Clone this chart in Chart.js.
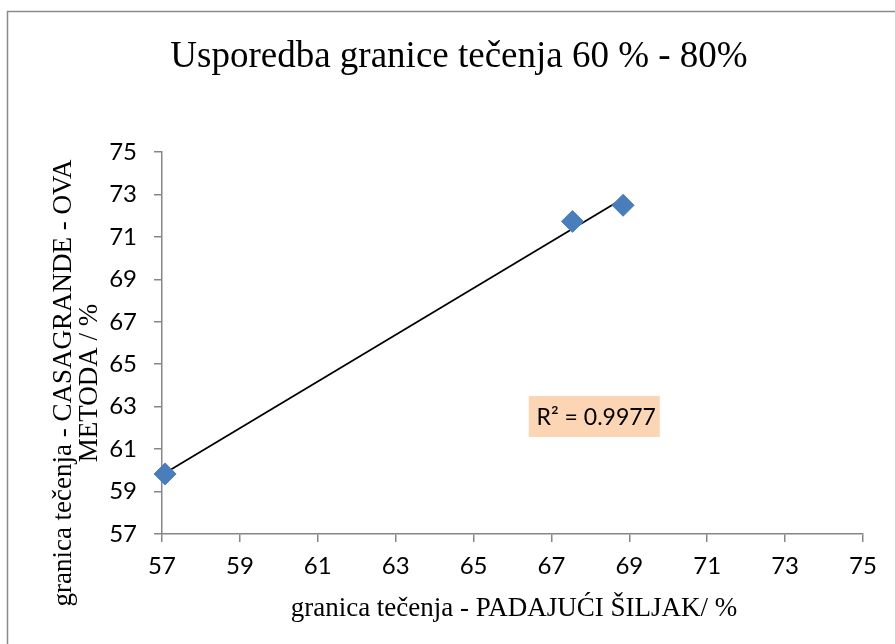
<!DOCTYPE html>
<html>
<head>
<meta charset="utf-8">
<script src="https://cdn.jsdelivr.net/npm/chart.js@4.4.1/dist/chart.umd.min.js"></script>
<style>
  html, body { margin: 0; padding: 0; background: #fff; overflow: hidden; }
  #wrap { position: absolute; left: 0; top: 0; width: 895px; height: 644px; }
</style>
</head>
<body>
<div id="wrap"><canvas id="myChart" width="895" height="644"></canvas></div>
<script>
// podaci ocitani sa slike
const padajuciSiljak = [57.08, 67.54, 68.84];   // x - granica tecenja, padajuci siljak
const casagrande = [59.83, 71.73, 72.49];       // y - granica tecenja, Casagrande
const xTicks = [57, 59, 61, 63, 65, 67, 69, 71, 73, 75];
const yTicks = [57, 59, 61, 63, 65, 67, 69, 71, 73, 75];
const r2Text = 'R² = 0.9977';

const naslov = 'Usporedba granice tečenja 60 % - 80%';
const xNaslov = 'granica tečenja - PADAJUĆI ŠILJAK/ %';
const yNaslov = ['granica tečenja - CASAGRANDE - OVA', 'METODA / %'];

// linearni trend (najmanji kvadrati) iz podataka
const n = padajuciSiljak.length;
const mx = padajuciSiljak.reduce((a, b) => a + b, 0) / n;
const my = casagrande.reduce((a, b) => a + b, 0) / n;
let sxy = 0, sxx = 0;
for (let i = 0; i < n; i++) {
  sxy += (padajuciSiljak[i] - mx) * (casagrande[i] - my);
  sxx += (padajuciSiljak[i] - mx) ** 2;
}
const nagib = sxy / sxx;
const odsjecak = my - nagib * mx;
const xMin = Math.min(...padajuciSiljak), xMax = Math.max(...padajuciSiljak);
const trend = [
  { x: xMin, y: nagib * xMin + odsjecak },
  { x: xMax, y: nagib * xMax + odsjecak }
];

const tocke = padajuciSiljak.map((x, i) => ({ x: x, y: casagrande[i] }));

const osivo = '#868686';
const tickFont = { family: 'Lato', size: 24 };

// okvir, naslovi i oznaka R²
const tekstovi = {
  id: 'tekstovi',
  beforeDraw(chart) {
    const c = chart.ctx;
    c.save();
    c.fillStyle = '#fff';
    c.fillRect(0, 0, chart.width, chart.height);
    c.strokeStyle = '#8a8a8a';
    c.lineWidth = 1.5;
    c.strokeRect(7.5, 11.5, 900, 640);
    c.restore();
  },
  afterDraw(chart) {
    const c = chart.ctx;
    const xs = chart.scales.x, ys = chart.scales.y;
    c.save();
    c.fillStyle = '#000';
    c.textAlign = 'center';
    c.textBaseline = 'alphabetic';
    c.font = '37px "Liberation Serif"';
    c.fillText(naslov, 459, 67);

    c.font = '27px "Liberation Serif"';
    c.fillText(xNaslov, 514, 616);

    c.save();
    c.translate(71, 383);
    c.rotate(-Math.PI / 2);
    c.fillText(yNaslov[0], 0, 0);
    c.restore();
    c.save();
    c.translate(97, 383);
    c.rotate(-Math.PI / 2);
    c.fillText(yNaslov[1], 0, 0);
    c.restore();

    // R² oznaka
    const cx = xs.getPixelForValue(68.1);
    const cy = ys.getPixelForValue(62.54);
    c.fillStyle = '#fcd5b5';
    c.fillRect(cx - 65.5, cy - 20.5, 131, 41);
    c.fillStyle = '#000';
    c.font = '23px Lato';
    c.textBaseline = 'middle';
    c.fillText(r2Text, cx + 2, cy + 1);
    c.restore();
  }
};

const ctx = document.getElementById('myChart');

new Chart(ctx, {
  type: 'scatter',
  data: {
    datasets: [
      {
        label: 'trend',
        data: trend,
        showLine: true,
        borderColor: '#000',
        borderWidth: 1.75,
        pointRadius: 0,
        fill: false,
        clip: false,
        order: 2
      },
      {
        label: 'granica tečenja',
        data: tocke,
        pointStyle: 'rectRot',
        pointRadius: 11,
        backgroundColor: '#4a7ebb',
        borderColor: '#4a7ebb',
        borderWidth: 1,
        clip: false,
        order: 1
      }
    ]
  },
  options: {
    responsive: false,
    animation: false,
    layout: { padding: { left: 0, right: 32, top: 152, bottom: 0 } },
    plugins: {
      legend: { display: false },
      tooltip: { enabled: false },
      title: { display: false }
    },
    scales: {
      x: {
        type: 'linear',
        min: 57,
        max: 75,
        afterBuildTicks: (s) => { s.ticks = xTicks.map(v => ({ value: v })); },
        afterFit: (s) => { s.height = 110; },
        grid: { display: true, drawOnChartArea: false, drawTicks: true, tickLength: 8, color: osivo, lineWidth: 1.5 },
        border: { display: true, color: osivo, width: 1.5 },
        ticks: { font: tickFont, color: '#000', padding: 10, maxRotation: 0, autoSkip: false },
        title: { display: false }
      },
      y: {
        type: 'linear',
        min: 57,
        max: 75,
        afterBuildTicks: (s) => { s.ticks = yTicks.map(v => ({ value: v })); },
        afterFit: (s) => { s.width = 162; },
        grid: { display: true, drawOnChartArea: false, drawTicks: true, tickLength: 8, color: osivo, lineWidth: 1.5 },
        border: { display: true, color: osivo, width: 1.5 },
        ticks: { font: tickFont, color: '#000', padding: 17, autoSkip: false },
        title: { display: false }
      }
    }
  },
  plugins: [tekstovi]
});
</script>
</body>
</html>
